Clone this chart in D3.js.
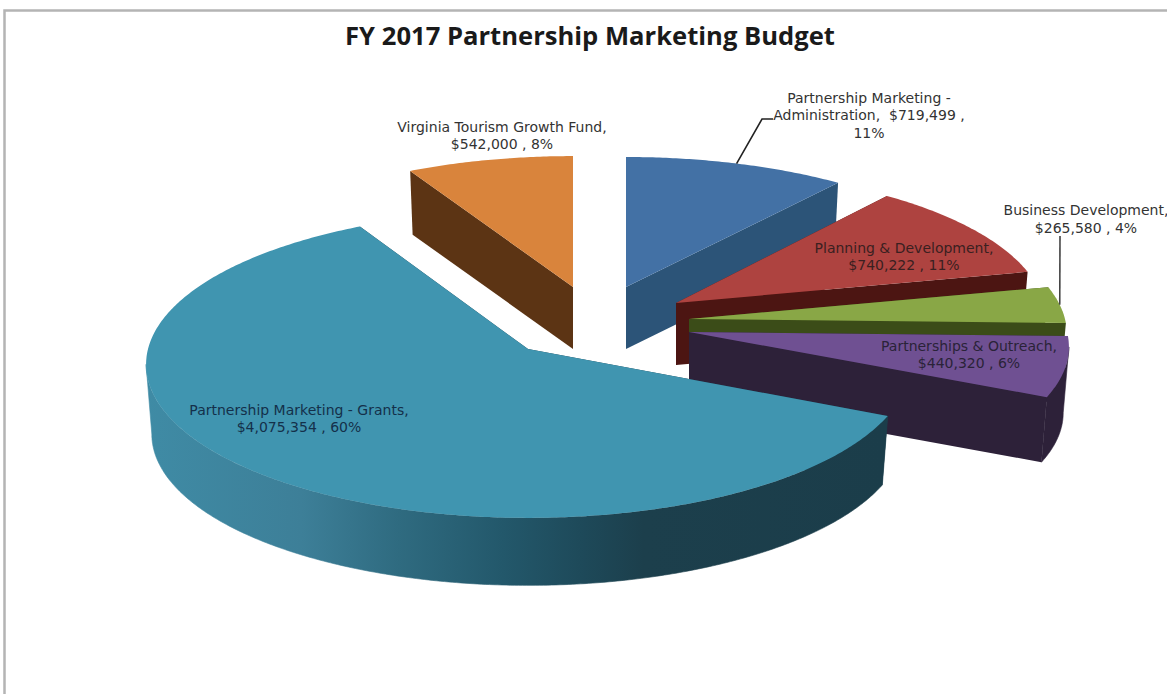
<!DOCTYPE html>
<html>
<head>
<meta charset="utf-8">
<script src="https://cdn.jsdelivr.net/npm/d3@7/dist/d3.min.js"></script>
<style>
  html, body { margin: 0; padding: 0; background: #fff; overflow: hidden; }
  svg { display: block; }
</style>
</head>
<body>
<svg id="chart" width="1167" height="694"></svg>
<script>
// FY 2017 budget figures, clockwise from twelve o'clock
const categories = [
  "Partnership Marketing - Administration",
  "Planning & Development",
  "Business Development",
  "Partnerships & Outreach",
  "Partnership Marketing - Grants",
  "Virginia Tourism Growth Fund"
];
const budgetValues = [719499, 740222, 265580, 440320, 4075354, 542000];
const percentLabels = ["11%", "11%", "4%", "6%", "60%", "8%"];
const chartTitle = "FY 2017 Partnership Marketing Budget";

// Top-face, side and label colours per wedge
const topColors = ["#4371A5", "#AE4340", "#89A746", "#6F5092", "#4095B0", "#D9843C"];
const sideColors = ["#2C5478", "#4C1512", "#3B4C18", "#2D2139", "url(#grantsSide)", "#5C3414"];
const cutColors = ["#2C5478", "#4C1512", "#3B4C18", "#2D2139", "#1B3D4A", "#5C3414"];
const labelColors = ["#333", "#3a2020", "#333", "#2a2338", "#14304a", "#333"];

// Exploded placement of each wedge: apex, radii and extrusion depth
const wedgeLayout = [
  { cx: 626, cy: 287, rx: 370, ry: 143, depth: 62 },
  { cx: 676, cy: 303, rx: 368, ry: 147, depth: 62 },
  { cx: 689, cy: 319, rx: 376, ry: 150, depth: 62 },
  { cx: 689, cy: 332, rx: 378, ry: 148, depth: 66 },
  { cx: 528, cy: 349, rx: 380, ry: 152, depth: 70 },
  { cx: 573, cy: 287, rx: 368, ry: 144, depth: 62 }
];
const paintOrder = [5, 0, 1, 2, 3, 4];

// Wrapped label lines with their centre positions
const labelLayout = [
  { x: 869, y: 98, lh: 17.5, lines: d => ["Partnership Marketing -", "Administration,  " + d + " ,", null] },
  { x: 904, y: 248, lh: 17, lines: d => ["Planning & Development,", d + " , "] },
  { x: 1086, y: 210, lh: 18, lines: d => ["Business Development,", d + " , "] },
  { x: 969, y: 346, lh: 16.8, lines: d => ["Partnerships & Outreach,", d + " , "] },
  { x: 299, y: 410, lh: 17, lines: d => ["Partnership Marketing - Grants,", d + " , "] },
  { x: 502, y: 127, lh: 17, lines: d => ["Virginia Tourism Growth Fund,", d + " , "] }
];

const perspective = 0.1;     // foreshortening toward the back of the disc
const bottomShrink = 0.985;  // lower face sits slightly farther away

const svg = d3.select("#chart");
const money = d3.format("$,");

const gradient = svg.append("defs").append("linearGradient")
  .attr("id", "grantsSide")
  .attr("gradientUnits", "userSpaceOnUse")
  .attr("x1", 146).attr("x2", 888).attr("y1", 0).attr("y2", 0);
gradient.selectAll("stop")
  .data([[0, "#3F8BA5"], [0.21, "#3D7F98"], [0.34, "#2F6B80"], [0.48, "#23586B"], [0.585, "#1E4A5A"], [0.67, "#1C3F4C"], [1, "#1B3D4A"]])
  .join("stop")
  .attr("offset", d => d[0])
  .attr("stop-color", d => d[1]);

// Frame along the top and left of the chart area
svg.append("path")
  .attr("d", d3.line()([[4.5, 694], [4.5, 10.5], [1167, 10.5]]))
  .attr("fill", "none")
  .attr("stroke", "#b4b4b4")
  .attr("stroke-width", 2.5);

const pie = d3.pie().sort(null).startAngle(0).endAngle(2 * Math.PI);
const arcs = pie(budgetValues);

// Projects a point of the unit disc onto the page
function project(layout, angle, r, lower) {
  const u = r * Math.sin(angle);
  const v = -r * Math.cos(angle);
  const s = (1 / (1 - perspective * v)) * (lower ? bottomShrink : 1);
  return [
    layout.cx + layout.rx * u * s,
    layout.cy + layout.ry * v * s + (lower ? layout.depth : 0)
  ];
}

const line = d3.line();
const closed = pts => line(pts) + "Z";

function rimAngles(start, end) {
  const n = Math.ceil((end - start) / 0.01);
  return d3.range(n + 1).map(i => start + (end - start) * i / n);
}

// The curved wall only shows between the disc's right and left extremes
const wallFrom = Math.PI - Math.acos(perspective);
const wallTo = Math.PI + Math.acos(perspective);

const wedges = svg.append("g").selectAll("g")
  .data(paintOrder)
  .join("g");

wedges.each(function (idx) {
  const g = d3.select(this);
  const arc = arcs[idx];
  const layout = wedgeLayout[idx];
  const angles = rimAngles(arc.startAngle, arc.endAngle);
  const top = angles.map(a => project(layout, a, 1, false));
  const apexTop = project(layout, 0, 0, false);
  const apexBottom = project(layout, 0, 0, true);

  // Cut faces, then the curved wall, then the top face
  [arc.startAngle, arc.endAngle].forEach(a => {
    g.append("path")
      .attr("d", closed([apexTop, project(layout, a, 1, false), project(layout, a, 1, true), apexBottom]))
      .attr("fill", cutColors[idx]);
  });
  const wallStart = Math.max(arc.startAngle, wallFrom);
  const wallEnd = Math.min(arc.endAngle, wallTo);
  if (wallEnd > wallStart) {
    const wall = rimAngles(wallStart, wallEnd);
    g.append("path")
      .attr("d", closed(
        wall.map(a => project(layout, a, 1, false))
          .concat(wall.slice().reverse().map(a => project(layout, a, 1, true)))
      ))
      .attr("fill", sideColors[idx])
      .attr("stroke", sideColors[idx])
      .attr("stroke-width", 0.6);
  }
  g.append("path")
    .attr("d", closed([apexTop].concat(top)))
    .attr("fill", topColors[idx]);
});

// Leader lines run from the middle of a wedge's rim to its label
const leaders = [
  { index: 0, via: [[762, 119], [773, 119]], color: "#222", width: 1.6 },
  { index: 2, via: [[1060, 236]], color: "#444", width: 1.6 }
];
svg.append("g").selectAll("path")
  .data(leaders)
  .join("path")
  .attr("d", d => {
    const arc = arcs[d.index];
    const start = project(wedgeLayout[d.index], (arc.startAngle + arc.endAngle) / 2, 1, false);
    return line([start].concat(d.via));
  })
  .attr("fill", "none")
  .attr("stroke", d => d.color)
  .attr("stroke-width", d => d.width);

// Data labels
const labels = svg.append("g")
  .attr("font-family", "'DejaVu Sans', sans-serif")
  .attr("font-size", 14)
  .attr("text-anchor", "middle");

categories.forEach((name, i) => {
  const value = money(budgetValues[i]);
  const spec = labelLayout[i];
  const lines = spec.lines(value).map(l => l === null ? percentLabels[i] : l);
  if (lines.length === 2) lines[1] += percentLabels[i];
  labels.append("g")
    .attr("class", "label")
    .attr("data-category", name)
    .attr("fill", labelColors[i])
    .selectAll("text")
    .data(lines)
    .join("text")
    .attr("x", spec.x)
    .attr("y", (d, j) => spec.y + j * spec.lh)
    .attr("dy", "0.35em")
    .style("white-space", "pre")
    .text(d => d);
});

// Title
svg.append("text")
  .attr("x", 590)
  .attr("y", 36)
  .attr("dy", "0.35em")
  .attr("text-anchor", "middle")
  .attr("font-family", "'Open Sans', sans-serif")
  .attr("font-weight", 700)
  .attr("font-size", 25.6)
  .attr("fill", "#1a1a1a")
  .text(chartTitle);
</script>
</body>
</html>
